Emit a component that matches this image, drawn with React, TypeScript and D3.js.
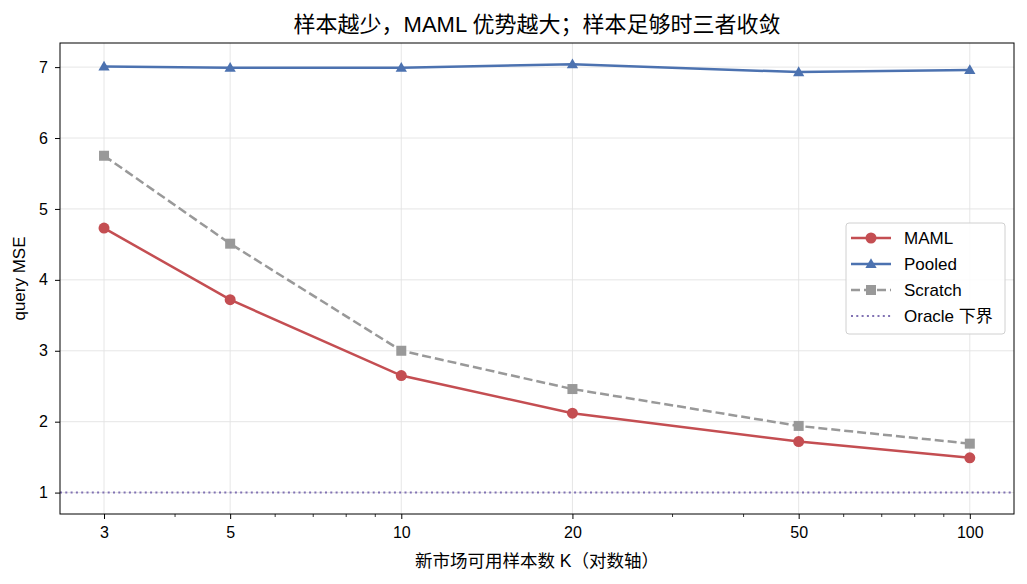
import React, { useEffect, useRef } from "react";
import * as d3 from "d3";

// sample sizes K on the new market
const kValues = [3, 5, 10, 20, 50, 100];
const mamlMse = [4.73, 3.72, 2.65, 2.12, 1.72, 1.49];
const pooledMse = [7.01, 6.99, 6.99, 7.04, 6.93, 6.96];
const scratchMse = [5.75, 4.51, 3.0, 2.46, 1.94, 1.69];
const oracleMse = 1.0;
const yTicks = [1, 2, 3, 4, 5, 6, 7];

const FONT = "'Liberation Sans', Arial, 'Noto Sans CJK SC', sans-serif";

export default function App() {
  const ref = useRef<SVGSVGElement>(null);

  useEffect(() => {
    const svg = d3.select(ref.current);
    svg.selectAll("*").remove();

    const left = 60, right = 1014, top = 43, bottom = 514;

    const x = d3.scaleLog().domain([2.51, 119.6]).range([left, right]);
    const y = d3.scaleLinear().domain([0.698, 7.34]).range([bottom, top]);

    svg.append("rect").attr("width", 1027).attr("height", 584).attr("fill", "#fff");

    // grid
    const grid = svg.append("g");
    grid.selectAll(".gx").data(kValues).join("line")
      .attr("x1", d => x(d)).attr("x2", d => x(d))
      .attr("y1", top).attr("y2", bottom)
      .attr("stroke", "#e3e3e3").attr("stroke-width", 0.9);
    grid.selectAll(".gy").data(yTicks).join("line")
      .attr("x1", left).attr("x2", right)
      .attr("y1", d => y(d)).attr("y2", d => y(d))
      .attr("stroke", "#e3e3e3").attr("stroke-width", 0.9);

    // oracle lower bound
    svg.append("line")
      .attr("x1", left).attr("x2", right)
      .attr("y1", y(oracleMse)).attr("y2", y(oracleMse))
      .attr("stroke", "#8172b3").attr("stroke-width", 2)
      .attr("stroke-dasharray", "2,3.3");

    const line = d3.line<number>().x((_, i) => x(kValues[i])).y(d => y(d));

    // scratch
    svg.append("path").datum(scratchMse).attr("d", line)
      .attr("fill", "none").attr("stroke", "#999999").attr("stroke-width", 2.5)
      .attr("stroke-dasharray", "9,4");
    svg.selectAll(".sq").data(scratchMse).join("rect")
      .attr("x", (_, i) => x(kValues[i]) - 5).attr("y", d => y(d) - 5)
      .attr("width", 10).attr("height", 10).attr("fill", "#999999");

    // pooled
    svg.append("path").datum(pooledMse).attr("d", line)
      .attr("fill", "none").attr("stroke", "#4c72b0").attr("stroke-width", 2.5);
    const tri = d3.symbol().type(d3.symbolTriangle).size(55);
    svg.selectAll(".tri").data(pooledMse).join("path")
      .attr("d", tri)
      .attr("transform", (d, i) => `translate(${x(kValues[i])},${y(d) + 0.8})`)
      .attr("fill", "#4c72b0");

    // maml
    svg.append("path").datum(mamlMse).attr("d", line)
      .attr("fill", "none").attr("stroke", "#c44e52").attr("stroke-width", 2.5);
    svg.selectAll(".dot").data(mamlMse).join("circle")
      .attr("cx", (_, i) => x(kValues[i])).attr("cy", d => y(d))
      .attr("r", 5.5).attr("fill", "#c44e52");

    // axes
    const xAxis = d3.axisBottom(x)
      .tickValues(kValues).tickFormat(d => String(d)).tickSize(5).tickPadding(8);
    const gx = svg.append("g").attr("transform", `translate(0,${bottom})`).call(xAxis);
    const minor = [4, 6, 7, 8, 9, 30, 40, 60, 70, 80, 90];
    gx.selectAll(".minor").data(minor).join("line")
      .attr("x1", d => x(d)).attr("x2", d => x(d))
      .attr("y1", 0).attr("y2", 3).attr("stroke", "#000").attr("stroke-width", 0.8);

    const gy = svg.append("g").attr("transform", `translate(${left},0)`)
      .call(d3.axisLeft(y).tickValues(yTicks).tickFormat(d3.format("d")).tickSize(5).tickPadding(7));

    [gx, gy].forEach(g => {
      g.select(".domain").remove();
      g.selectAll("line").attr("stroke", "#000");
      g.selectAll("text").attr("font-family", FONT).attr("font-size", 16).attr("fill", "#000");
    });

    svg.append("rect").attr("x", left).attr("y", top)
      .attr("width", right - left).attr("height", bottom - top)
      .attr("fill", "none").attr("stroke", "#000").attr("stroke-width", 1);

    // title & axis labels
    svg.append("text").attr("x", (left + right) / 2).attr("y", 32)
      .attr("text-anchor", "middle").attr("font-family", FONT).attr("font-size", 22)
      .text("样本越少，MAML 优势越大；样本足够时三者收敛");
    svg.append("text").attr("x", (left + right) / 2).attr("y", 567)
      .attr("text-anchor", "middle").attr("font-family", FONT).attr("font-size", 17.5)
      .text("新市场可用样本数 K（对数轴）");
    svg.append("text")
      .attr("transform", `translate(25,${(top + bottom) / 2}) rotate(-90)`)
      .attr("text-anchor", "middle").attr("font-family", FONT).attr("font-size", 17)
      .text("query MSE");

    // legend
    const lg = svg.append("g").attr("transform", "translate(846,223)");
    lg.append("rect").attr("width", 159).attr("height", 111).attr("rx", 3)
      .attr("fill", "#fff").attr("fill-opacity", 0.85).attr("stroke", "#d0d0d0");
    const items = [
      { label: "MAML", color: "#c44e52", dash: null, marker: "circle" },
      { label: "Pooled", color: "#4c72b0", dash: null, marker: "triangle" },
      { label: "Scratch", color: "#999999", dash: "9,4", marker: "square" },
      { label: "Oracle 下界", color: "#8172b3", dash: "2,3.3", marker: null },
    ];
    items.forEach((it, i) => {
      const cy = 15 + i * 26;
      lg.append("line").attr("x1", 5).attr("x2", 45).attr("y1", cy).attr("y2", cy)
        .attr("stroke", it.color).attr("stroke-width", it.marker ? 2.5 : 2)
        .attr("stroke-dasharray", it.dash);
      if (it.marker === "circle") lg.append("circle").attr("cx", 25).attr("cy", cy).attr("r", 5.5).attr("fill", it.color);
      if (it.marker === "triangle") lg.append("path").attr("d", tri).attr("transform", `translate(25,${cy + 0.8})`).attr("fill", it.color);
      if (it.marker === "square") lg.append("rect").attr("x", 20).attr("y", cy - 5).attr("width", 10).attr("height", 10).attr("fill", it.color);
      lg.append("text").attr("x", 58).attr("y", cy + 6).attr("font-family", FONT)
        .attr("font-size", 17).attr("fill", "#000").text(it.label);
    });
  }, []);

  return <svg ref={ref} width={1027} height={584} style={{ position: "absolute", left: 0, top: 0 }} />;
}
